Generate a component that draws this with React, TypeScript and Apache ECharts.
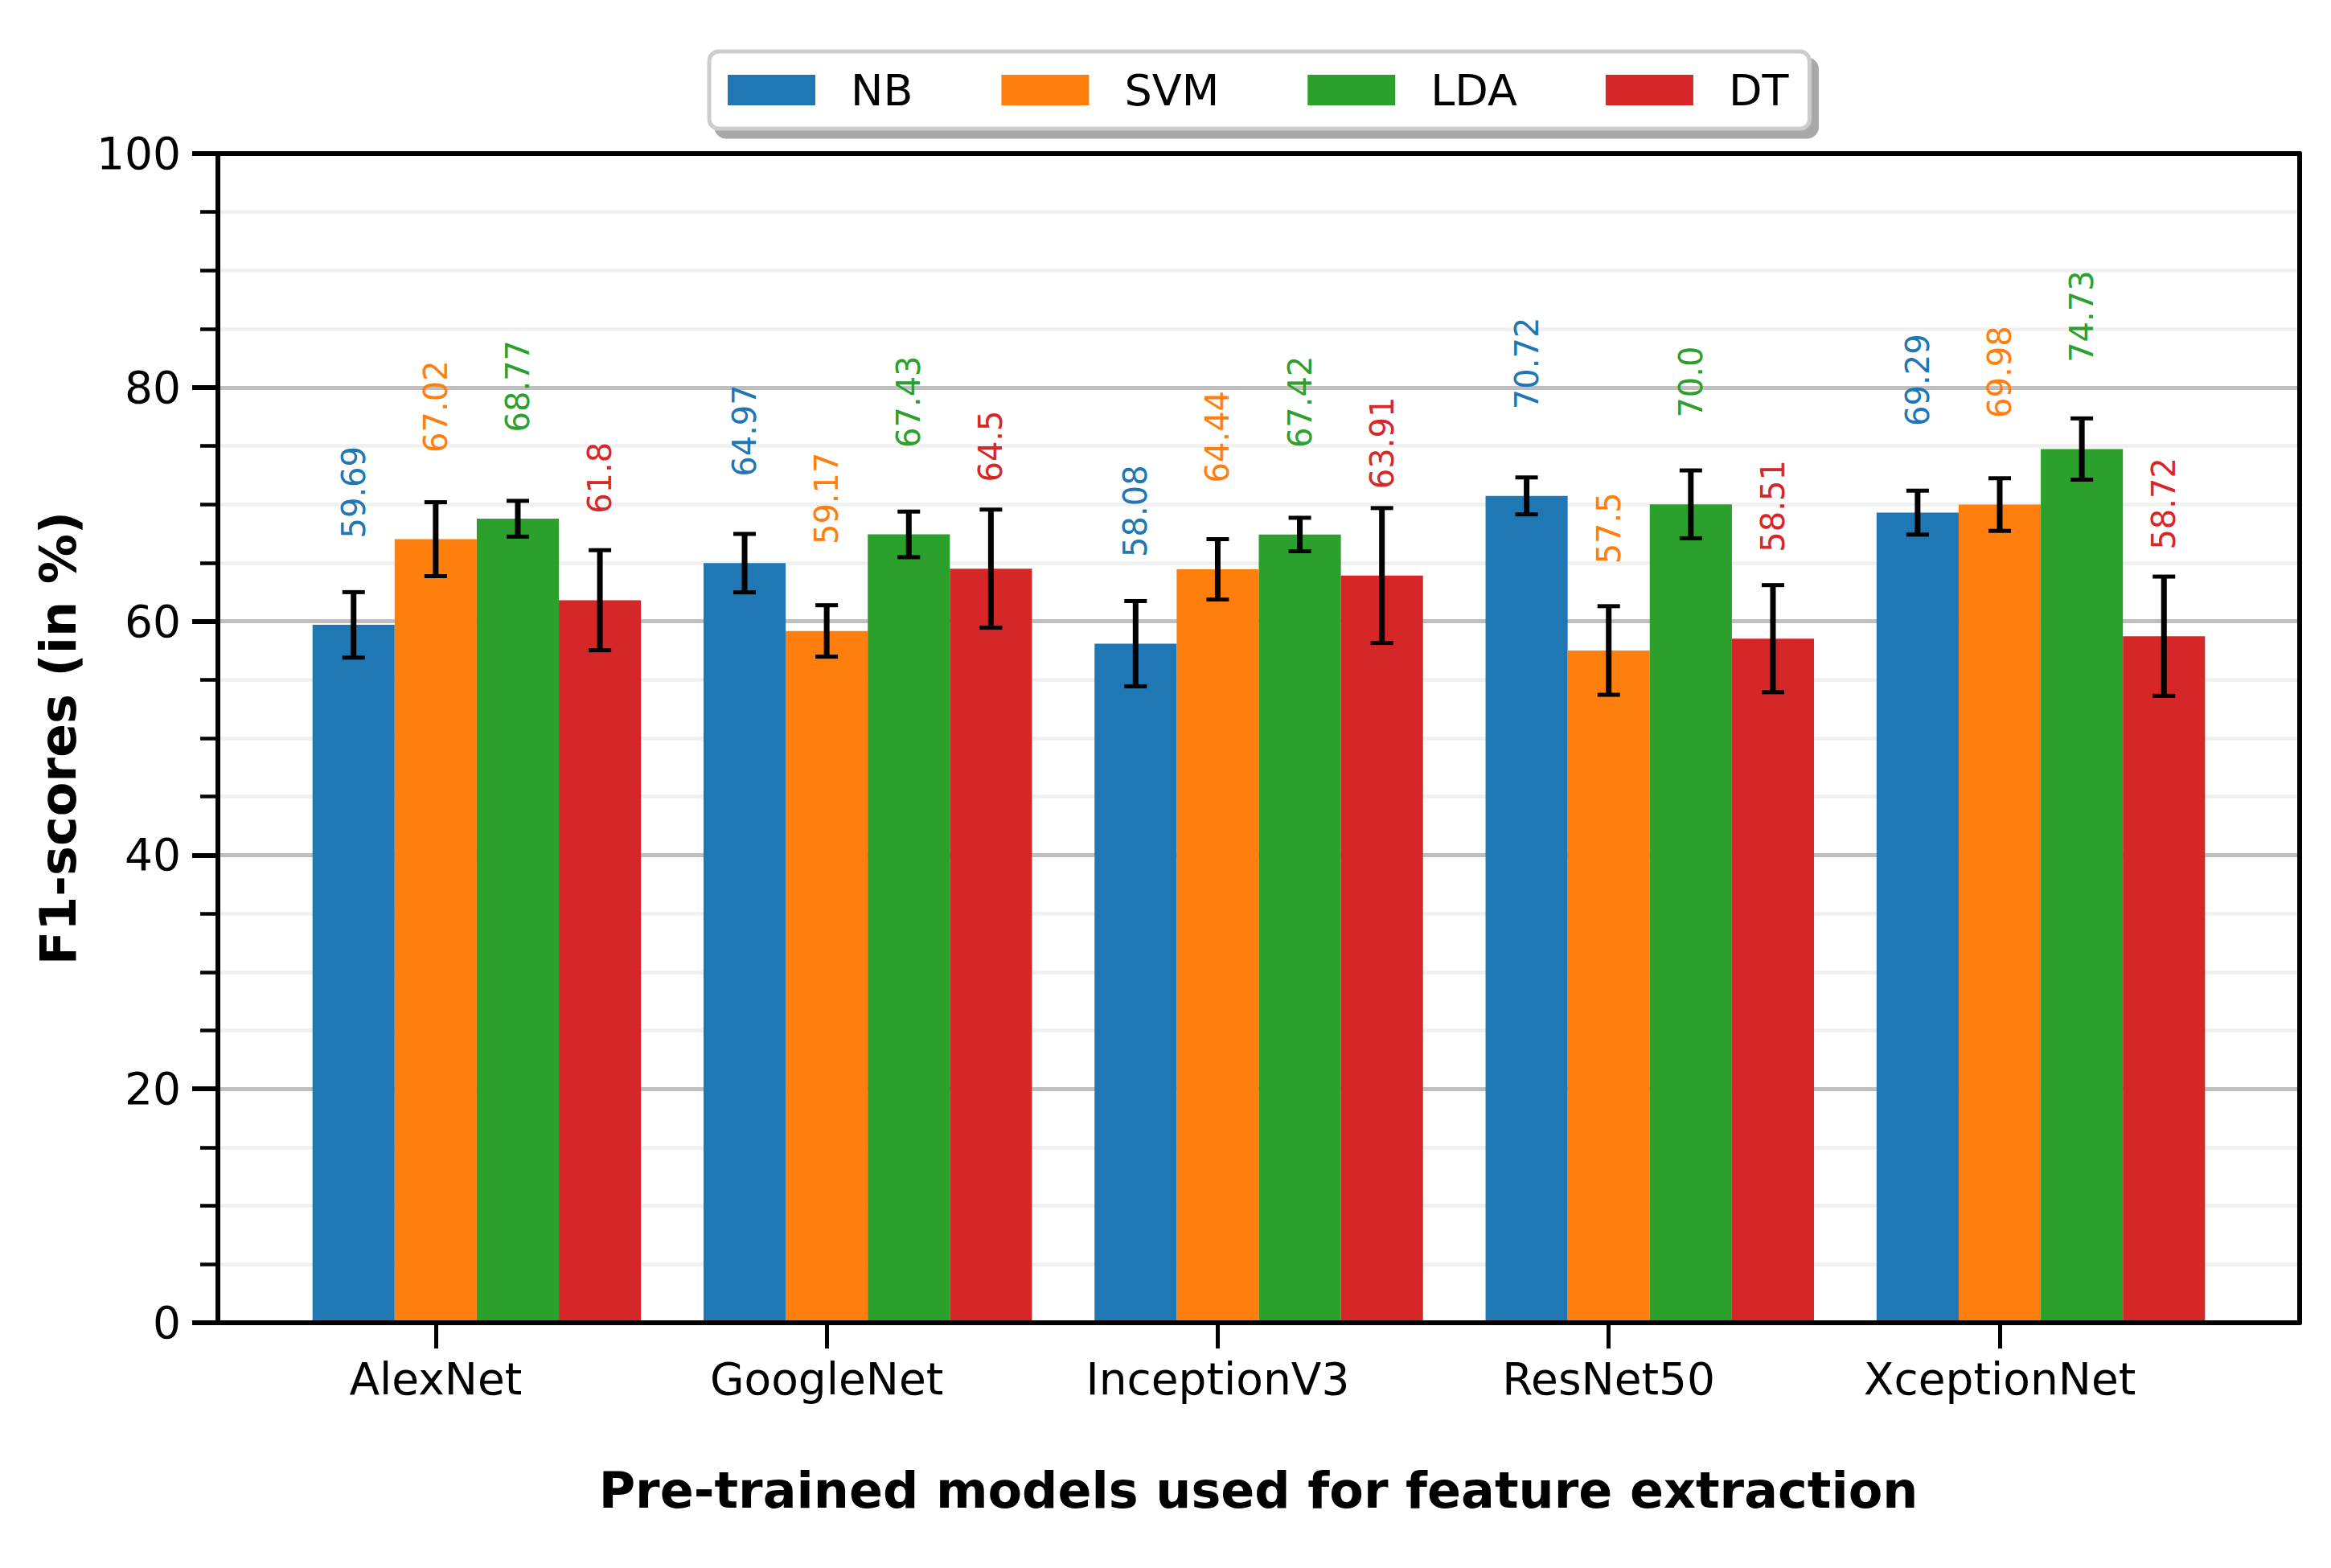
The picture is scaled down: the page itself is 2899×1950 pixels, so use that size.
import React, { useEffect, useRef } from 'react'
import * as echarts from 'echarts'

// pre-trained models (x axis)
const categories = ['AlexNet', 'GoogleNet', 'InceptionV3', 'ResNet50', 'XceptionNet']
const classifiers = ['NB', 'SVM', 'LDA', 'DT']

// F1-scores (in %)
const nbScores = [59.69, 64.97, 58.08, 70.72, 69.29]
const svmScores = [67.02, 59.17, 64.44, 57.5, 69.98]
const ldaScores = [68.77, 67.43, 67.42, 70.0, 74.73]
const dtScores = [61.8, 64.5, 63.91, 58.51, 58.72]

// error bars (+/-)
const nbErr = [2.8, 2.5, 3.65, 1.58, 1.88]
const svmErr = [3.16, 2.2, 2.58, 3.79, 2.25]
const ldaErr = [1.53, 1.95, 1.43, 2.9, 2.62]
const dtErr = [4.28, 5.05, 5.77, 4.58, 5.1]

const yTicks = [0, 20, 40, 60, 80, 100]

const colors = ['#1f77b4', '#ff7f0e', '#2ca02c', '#d62728']
const FONT = 'DejaVu Sans'
const BAR_W = 0.21
const offsets = [-1, 0, 1, 2]
const LABEL_OFFSET = 7.4

const fmt = (v: number) => (Number.isInteger(v) ? v.toFixed(1) : String(v))

const makeSeries = (name: string, scores: number[], errs: number[], k: number) => ({
  name,
  type: 'custom',
  xAxisIndex: 0,
  yAxisIndex: 0,
  itemStyle: { color: colors[k] },
  encode: { x: 0, y: 1 },
  data: scores.map((v, i) => [i, v, errs[i]]),
  renderItem: (params: any, api: any) => {
    const cx = api.value(0) + offsets[k] * BAR_W
    const v = api.value(1)
    const e = api.value(2)
    const tl = api.coord([cx - BAR_W / 2, v])
    const br = api.coord([cx + BAR_W / 2, 0])
    const top = api.coord([cx, v + e])
    const bot = api.coord([cx, v - e])
    const lab = api.coord([cx, v + LABEL_OFFSET])
    const cap = 14
    return {
      type: 'group',
      children: [
        {
          type: 'rect',
          shape: { x: tl[0], y: tl[1], width: br[0] - tl[0], height: br[1] - tl[1] },
          style: { fill: colors[k] },
        },
        {
          type: 'line',
          shape: { x1: top[0], y1: top[1], x2: bot[0], y2: bot[1] },
          style: { stroke: '#000', lineWidth: 7 },
        },
        {
          type: 'line',
          shape: { x1: top[0] - cap, y1: top[1], x2: top[0] + cap, y2: top[1] },
          style: { stroke: '#000', lineWidth: 5 },
        },
        {
          type: 'line',
          shape: { x1: bot[0] - cap, y1: bot[1], x2: bot[0] + cap, y2: bot[1] },
          style: { stroke: '#000', lineWidth: 5 },
        },
        {
          type: 'text',
          x: lab[0],
          y: lab[1],
          rotation: Math.PI / 2,
          style: {
            text: fmt(v),
            fill: colors[k],
            fontSize: 40,
            fontFamily: FONT,
            align: 'left',
            verticalAlign: 'middle',
          },
        },
      ],
    }
  },
})

const X_MIN = -0.557
const X_MAX = 4.767

const App = () => {
  const chartRef = useRef<HTMLDivElement>(null)

  useEffect(() => {
    document.body.style.margin = '0'
    const chart = echarts.init(chartRef.current!, undefined, { renderer: 'svg' })

    const options = {
      animation: false,
      backgroundColor: '#fff',
      grid: { left: 271, right: 39, top: 191, bottom: 305 },
      legend: {
        left: 882,
        top: 64,
        icon: 'rect',
        itemWidth: 109,
        itemHeight: 38,
        itemGap: 110,
        padding: [21, 26, 21, 23],
        backgroundColor: '#fff',
        borderColor: '#cccccc',
        borderWidth: 5,
        borderRadius: 12,
        shadowColor: '#a8a8a8',
        shadowBlur: 1,
        shadowOffsetX: 9,
        shadowOffsetY: 10,
        textStyle: {
          fontSize: 54,
          fontFamily: FONT,
          color: '#000',
          lineHeight: 40,
          padding: [0, 0, 0, 39],
        },
        data: classifiers,
      },
      xAxis: [
        {
          type: 'value',
          min: X_MIN,
          max: X_MAX,
          position: 'bottom',
          z: 10,
          splitLine: { show: false },
          axisLine: { show: true, onZero: false, lineStyle: { color: '#000', width: 6 } },
          axisTick: {
            show: true,
            length: 32,
            customValues: categories.map((_, i) => i),
            lineStyle: { color: '#000', width: 5 },
          },
          axisLabel: {
            customValues: categories.map((_, i) => i),
            formatter: (v: number) => categories[Math.round(v)],
            fontSize: 55,
            fontFamily: FONT,
            color: '#000',
            margin: 42,
          },
        },
        {
          type: 'value',
          min: X_MIN,
          max: X_MAX,
          position: 'top',
          z: 10,
          splitLine: { show: false },
          axisLine: { show: true, onZero: false, lineStyle: { color: '#000', width: 6 } },
          axisTick: { show: false },
          axisLabel: { show: false },
        },
      ],
      yAxis: [
        {
          type: 'value',
          min: yTicks[0],
          max: yTicks[yTicks.length - 1],
          interval: 20,
          position: 'left',
          axisLine: { show: true, onZero: false, lineStyle: { color: '#000', width: 6 } },
          axisTick: { show: true, length: 32, lineStyle: { color: '#000', width: 6 } },
          minorTick: { show: true, splitNumber: 4, length: 22, lineStyle: { color: '#000', width: 4.5 } },
          axisLabel: { fontSize: 55, fontFamily: FONT, color: '#000', margin: 46 },
          splitLine: { show: true, lineStyle: { color: '#bfbfbf', width: 5 } },
          minorSplitLine: { show: true, lineStyle: { color: '#f0f0f0', width: 4.5 } },
        },
        {
          type: 'value',
          min: 0,
          max: 100,
          position: 'right',
          z: 10,
          splitLine: { show: false },
          axisLine: { show: true, onZero: false, lineStyle: { color: '#000', width: 6 } },
          axisTick: { show: false },
          axisLabel: { show: false },
        },
      ],
      graphic: [
        {
          type: 'text',
          x: 1565,
          y: 1853,
          style: {
            text: 'Pre-trained models used for feature extraction',
            fontSize: 62,
            fontWeight: 'bold',
            fontFamily: FONT,
            fill: '#000',
            align: 'center',
            verticalAlign: 'middle',
          },
        },
        {
          type: 'text',
          x: 72,
          y: 918,
          rotation: Math.PI / 2,
          style: {
            text: 'F1-scores (in %)',
            fontSize: 62,
            fontWeight: 'bold',
            fontFamily: FONT,
            fill: '#000',
            align: 'center',
            verticalAlign: 'middle',
          },
        },
      ],
      series: [
        makeSeries('NB', nbScores, nbErr, 0),
        makeSeries('SVM', svmScores, svmErr, 1),
        makeSeries('LDA', ldaScores, ldaErr, 2),
        makeSeries('DT', dtScores, dtErr, 3),
      ],
    }

    chart.setOption(options)

    return () => {
      chart.dispose()
    }
  }, [])

  return <div style={{ width: '2899px', height: '1950px' }} ref={chartRef}></div>
}

export default App
